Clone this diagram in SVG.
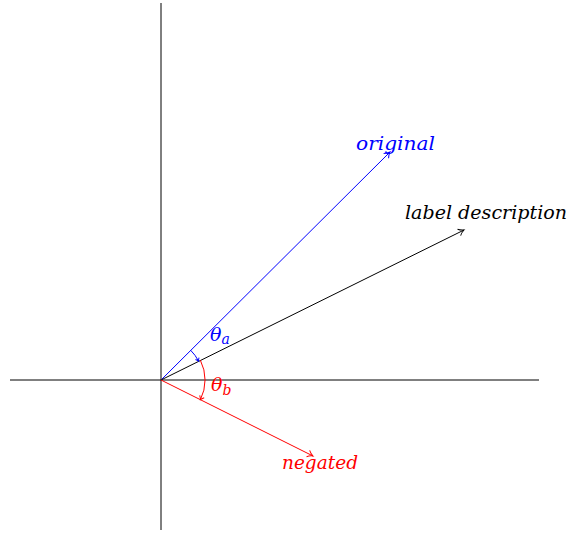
<svg xmlns="http://www.w3.org/2000/svg" width="569" height="533" viewBox="0 0 569 533">
<style>
.t{font-family:"DejaVu Serif",serif;font-style:italic;font-size:19px}
.m{font-family:"DejaVu Serif",serif;font-style:italic;font-size:19px}
.ln{fill:none;stroke-width:1}
</style>
<defs>
<marker id="ak" markerWidth="10" markerHeight="10" refX="8" refY="5" orient="auto" markerUnits="userSpaceOnUse"><path d="M2.5,1.5 Q5,4 8,5 Q5,6 2.5,8.5" fill="none" stroke="#000" stroke-width="1"/></marker>
<marker id="ab" markerWidth="10" markerHeight="10" refX="8" refY="5" orient="auto" markerUnits="userSpaceOnUse"><path d="M2.5,1.5 Q5,4 8,5 Q5,6 2.5,8.5" fill="none" stroke="#0000ff" stroke-width="1"/></marker>
<marker id="ar" markerWidth="10" markerHeight="10" refX="8" refY="5" orient="auto" markerUnits="userSpaceOnUse"><path d="M2.5,1.5 Q5,4 8,5 Q5,6 2.5,8.5" fill="none" stroke="#ff0000" stroke-width="1"/></marker>
<marker id="sb" markerWidth="8" markerHeight="8" refX="6" refY="4" orient="auto" markerUnits="userSpaceOnUse"><path d="M3,2 Q4.5,3.5 6,4 Q4.5,4.5 3,6" fill="none" stroke="#0000ff" stroke-width="1"/></marker>
<marker id="sr" markerWidth="8" markerHeight="8" refX="6" refY="4" orient="auto" markerUnits="userSpaceOnUse"><path d="M2.5,1.5 Q4.5,3.3 6,4 Q4.5,4.7 2.5,6.5" fill="none" stroke="#ff0000" stroke-width="1"/></marker>
</defs>
<g id="axes">
<line x1="10" y1="380" x2="539" y2="380" stroke="#000" class="ln"/>
<line x1="161" y1="3" x2="161" y2="530" stroke="#000" class="ln"/>
</g>
<g id="connectors">
<line id="original-vec" x1="161" y1="380" x2="390" y2="152" stroke="#0000ff" class="ln" marker-end="url(#ab)"/>
<line id="label-vec" x1="161" y1="380" x2="464" y2="230" stroke="#000" class="ln" marker-end="url(#ak)"/>
<line id="negated-vec" x1="161" y1="380" x2="313" y2="456" stroke="#ff0000" class="ln" marker-end="url(#ar)"/>
<path id="arc-a" d="M190.7,350.3 A42,42 0 0 1 198.6,361.2" stroke="#0000ff" class="ln" marker-end="url(#sb)"/>
<path id="arc-b" d="M200.4,360.3 A44,44 0 0 1 200.4,399.7" stroke="#ff0000" class="ln" marker-end="url(#sr)"/>
</g>
<g id="original"><text class="t" x="356" y="150" fill="#0000ff" textLength="79" lengthAdjust="spacingAndGlyphs">original</text></g>
<g id="label-description"><text class="t" x="405" y="218.5" fill="#000" textLength="162" lengthAdjust="spacingAndGlyphs">label description</text></g>
<g id="negated"><text class="t" x="282" y="468.5" fill="#ff0000" textLength="76" lengthAdjust="spacingAndGlyphs">negated</text></g>
<g id="theta-a"><text class="m" x="210" y="340.5" fill="#0000ff">θ<tspan font-size="14" dy="3.5">a</tspan></text></g>
<g id="theta-b"><text class="m" x="211" y="391" fill="#ff0000">θ<tspan font-size="14" dy="4">b</tspan></text></g>
</svg>
